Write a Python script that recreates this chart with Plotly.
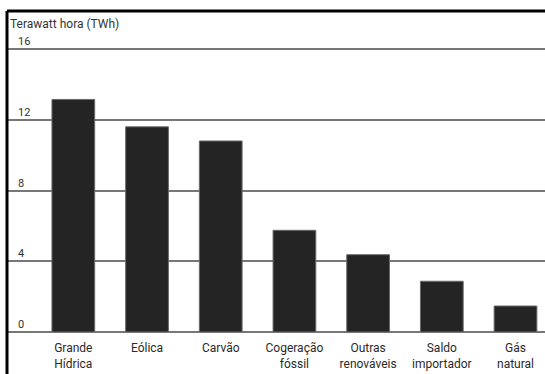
import plotly.graph_objects as go

# Electricity generation by source, in TWh
categories = ["Grande<br>Hídrica", "Eólica", "Carvão", "Cogeração<br>fóssil",
              "Outras<br>renováveis", "Saldo<br>importador", "Gás<br>natural"]
values = [13.15, 11.6, 10.8, 5.75, 4.37, 2.87, 1.47]
tick_values = [0, 4, 8, 12, 16]
tick_labels = ["0", "4", "8", "12", "16"]
axis_title = "Terawatt hora (TWh)"

W, H = 545, 374
ML, MR, MT, MB = 7, 0, 11, 42

fig = go.Figure(go.Bar(
    x=list(range(len(categories))),
    y=values,
    marker=dict(color="#242424", line=dict(color="#6a6a6a", width=1)),
    width=0.58,
))

fig.update_layout(
    width=W, height=H,
    margin=dict(l=ML, r=MR, t=MT, b=MB),
    paper_bgcolor="white", plot_bgcolor="white",
    showlegend=False,
    font=dict(family="Roboto, Arial, sans-serif", color="#333333"),
)

fig.update_xaxes(
    range=[-0.9, 6.4],
    tickmode="array",
    tickvals=list(range(len(categories))),
    ticktext=categories,
    tickfont=dict(size=12, color="#2a2a2a"),
    showgrid=False, zeroline=False, showline=False, ticks="",
    ticklabelstandoff=7,
)

fig.update_yaxes(
    range=[0, 18.15],
    tickmode="array",
    tickvals=tick_values,
    showticklabels=False,
    showgrid=True, gridcolor="#777777", gridwidth=2,
    zeroline=True, zerolinecolor="#777777", zerolinewidth=2,
    showline=False, ticks="",
)

# Value labels sitting just above each gridline
for v, t in zip(tick_values, tick_labels):
    fig.add_annotation(
        x=0, xref="paper", y=v, yref="y",
        text=t, showarrow=False,
        xanchor="left", yanchor="bottom",
        xshift=9, yshift=-1,
        font=dict(size=11, color="#333333"),
    )

# Unit label at top left
fig.add_annotation(
    x=0, xref="paper", y=1, yref="paper",
    text=axis_title, showarrow=False,
    xanchor="left", yanchor="top",
    xshift=1, yshift=-4,
    font=dict(size=12, color="#333333"),
)

# Black frame along top and left
fig.add_shape(type="line", xref="paper", yref="paper",
              x0=0, x1=1.01, y0=1, y1=1,
              line=dict(color="black", width=3))
fig.add_shape(type="line", xref="paper", yref="paper",
              x0=0, x1=0, y0=1, y1=-0.2,
              line=dict(color="black", width=3))

fig.write_html("out.html")
